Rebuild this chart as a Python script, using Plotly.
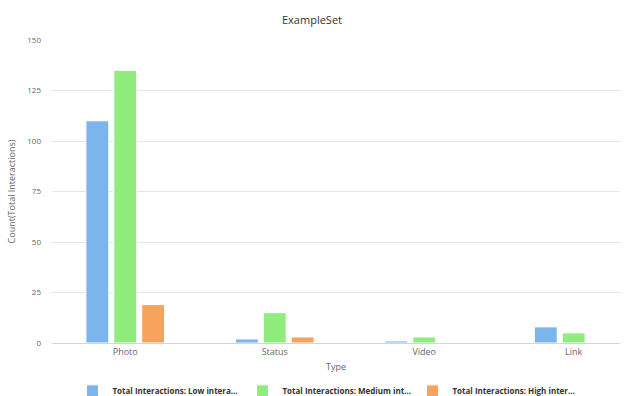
import plotly.graph_objects as go

categories = ["Photo", "Status", "Video", "Link"]
low_values = [110, 2, 1, 8]
medium_values = [135, 15, 3, 5]
high_values = [19, 3, 0, 0]
series_names = [
    "Total Interactions: Low intera...",
    "Total Interactions: Medium int...",
    "Total Interactions: High inter...",
]
colors = ["#7cb5ec", "#90ed7d", "#f7a35c"]
y_ticks = [0, 25, 50, 75, 100, 125, 150]

fig = go.Figure()
for name, vals, col in zip(series_names, [low_values, medium_values, high_values], colors):
    fig.add_trace(go.Bar(x=categories, y=vals, name=name, marker=dict(color=col, line=dict(color="#ffffff", width=1))))

fig.update_layout(
    width=624, height=396,
    margin=dict(l=52, r=4, t=40, b=53, autoexpand=False),
    paper_bgcolor="white", plot_bgcolor="white",
    font=dict(family="Open Sans, sans-serif", color="#666666", size=9),
    title=dict(text="ExampleSet", x=0.5, xanchor="center", y=0.95, yanchor="middle",
               font=dict(size=11, color="#333333")),
    barmode="group", bargap=0.44, bargroupgap=0.18,
    xaxis=dict(range=[-0.49, 3.31], showgrid=False, showline=True, linecolor="#ccd6eb",
               ticks="", tickfont=dict(size=9, color="#666666"),
               title=dict(text="Type", font=dict(size=9, color="#666666"), standoff=6)),
    yaxis=dict(range=[0, 150], tickvals=y_ticks, showgrid=True, gridcolor="#e6e6e6",
               zeroline=False, ticks="", ticklabelstandoff=10,
               tickfont=dict(size=8, color="#666666"),
               title=dict(text="Count(Total Interactions)", font=dict(size=9, color="#666666"), standoff=10)),
    legend=dict(orientation="h", x=0.485, xanchor="center", y=-0.158, yanchor="middle",
                font=dict(size=8, color="#333333", weight="bold"), itemwidth=30,
                entrywidth=125, tracegroupgap=0),
    showlegend=True,
)

fig.write_html("out.html")
